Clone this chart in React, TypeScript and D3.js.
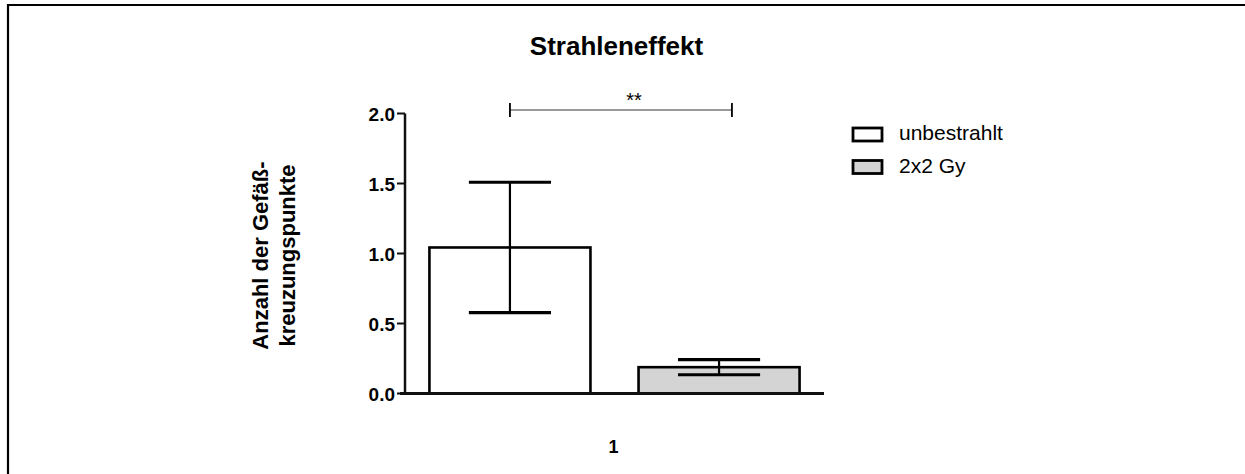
import React from "react";
import * as d3 from "d3";

const title = "Strahleneffekt";
const categories = ["1"];
const seriesNames = ["unbestrahlt", "2x2 Gy"];
const seriesFills = ["#ffffff", "#d4d4d4"];
const means = [1.043, 0.188];
const sems = [0.466, 0.054];
const yTicks = [0.0, 0.5, 1.0, 1.5, 2.0];
const yLabelLines = ["Anzahl der Gefäß-", "kreuzungspunkte"];
const significance = "**";
const sigLevel = 2.025;

const FONT = "'Liberation Sans', Arial, Helvetica, sans-serif";

export default function App() {
  const W = 1245;
  const H = 474;
  const axisX = 405;
  const xEnd = 824;
  const y = d3.scaleLinear().domain([0, 2]).range([393.5, 113.5]);
  const x0 = d3.scaleBand().domain(categories).range([axisX, xEnd]).paddingInner(0).paddingOuter(0.066);
  const x1 = d3.scaleBand().domain(seriesNames).range([0, x0.bandwidth()]).paddingInner(0.23).paddingOuter(0);
  const bw = x1.bandwidth();
  const cat = categories[0];
  const gx = x0(cat) as number;

  const centers = seriesNames.map((s) => gx + (x1(s) as number) + bw / 2);
  const sigLeft = centers[0];
  const sigRight = gx + (x1(seriesNames[1]) as number) + bw * 0.58;
  const sigY = y(sigLevel);

  const capHalf = bw * 0.255;

  return (
    <svg
      width={W}
      height={H}
      style={{ position: "absolute", left: 0, top: 0, background: "#fff" }}
      fontFamily={FONT}
    >
      {/* frame */}
      <path d={`M8,${H + 5} L8,5 L${W + 5},5`} fill="none" stroke="#000" strokeWidth={2.2} />

      {/* title */}
      <text x={616.5} y={55} textAnchor="middle" fontSize={26} fontWeight="bold" fill="#000">
        {title}
      </text>

      {/* bars */}
      {seriesNames.map((s, i) => {
        const bx = gx + (x1(s) as number);
        return (
          <rect
            key={s}
            x={bx}
            y={y(means[i])}
            width={bw}
            height={y(0) - y(means[i])}
            fill={seriesFills[i]}
            stroke="#000"
            strokeWidth={2.6}
          />
        );
      })}

      {/* error bars */}
      {seriesNames.map((s, i) => {
        const cx = centers[i];
        const top = y(means[i] + sems[i]);
        const bot = y(means[i] - sems[i]);
        return (
          <g key={"e" + s} stroke="#000">
            <line x1={cx} x2={cx} y1={top} y2={bot} strokeWidth={2.2} />
            <line x1={cx - capHalf} x2={cx + capHalf} y1={top} y2={top} strokeWidth={3.2} />
            <line x1={cx - capHalf} x2={cx + capHalf} y1={bot} y2={bot} strokeWidth={3.2} />
          </g>
        );
      })}

      {/* y axis */}
      <line x1={axisX} x2={axisX} y1={y(2)} y2={y(0)} stroke="#111" strokeWidth={2.5} />
      {yTicks.map((t) => (
        <g key={t}>
          <line x1={axisX - 8} x2={axisX} y1={y(t)} y2={y(t)} stroke="#111" strokeWidth={2} />
          <text
            x={axisX - 10}
            y={y(t) + 7}
            textAnchor="end"
            fontSize={19}
            fontWeight="bold"
            fill="#000"
          >
            {t.toFixed(1)}
          </text>
        </g>
      ))}

      {/* x axis */}
      <line x1={axisX - 5} x2={xEnd} y1={y(0)} y2={y(0)} stroke="#111" strokeWidth={2.8} />
      <text x={613.5} y={453} textAnchor="middle" fontSize={18} fontWeight="bold" fill="#000">
        {cat}
      </text>

      {/* y axis label */}
      <g transform="translate(268,255.5) rotate(-90)">
        <text x={0} y={0} textAnchor="middle" fontSize={22} fontWeight="bold" fill="#000">
          {yLabelLines[0]}
        </text>
        <text x={0} y={27} textAnchor="middle" fontSize={22} fontWeight="bold" fill="#000">
          {yLabelLines[1]}
        </text>
      </g>

      {/* significance bracket */}
      <line x1={sigLeft} x2={sigRight} y1={sigY} y2={sigY} stroke="#777" strokeWidth={1.6} />
      <line x1={sigLeft} x2={sigLeft} y1={sigY - 7} y2={sigY + 7} stroke="#000" strokeWidth={1.8} />
      <line x1={sigRight} x2={sigRight} y1={sigY - 7} y2={sigY + 7} stroke="#000" strokeWidth={1.8} />
      <text x={(sigLeft + sigRight) / 2 + 13} y={107} textAnchor="middle" fontSize={20} fill="#000">
        {significance}
      </text>

      {/* legend */}
      {seriesNames.map((s, i) => (
        <g key={"l" + s}>
          <rect
            x={853}
            y={128 + i * 32.5}
            width={29}
            height={13}
            fill={seriesFills[i]}
            stroke="#000"
            strokeWidth={2.8}
          />
          <text x={899} y={140 + i * 33} fontSize={21} fill="#000">
            {s}
          </text>
        </g>
      ))}
    </svg>
  );
}
